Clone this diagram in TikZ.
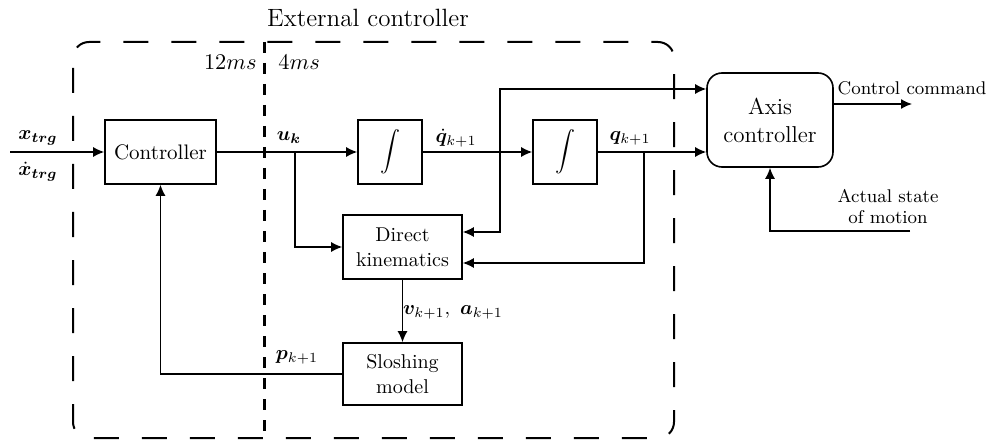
\RequirePackage{fix-cm}
\documentclass[tikz,border=0pt]{standalone}
\usepackage{amsmath}
\usepackage{bm}
\usepackage{fontspec}
\usetikzlibrary{arrows.meta}
\begin{document}
\begin{tikzpicture}[x=0.5pt,y=-0.5pt,
  blk/.style={draw, line width=0.8pt, inner sep=0pt, align=center, font=\fontsize{10}{12.5}\selectfont},
  conn/.style={line width=0.7pt},
  arr/.style={conn, -{Latex[length=5.5pt,width=5pt]}},
  lbl/.style={inner sep=0pt, font=\fontsize{10}{12}\selectfont},
  small/.style={inner sep=0pt, align=center, font=\fontsize{9.2}{10.5}\selectfont},
  big/.style={inner sep=0pt, font=\fontsize{12.5}{15}\selectfont},
  mid/.style={inner sep=0pt, font=\fontsize{11.2}{13}\selectfont}]
\useasboundingbox (0,0) rectangle (989,443);

% dashed frames
\draw[line width=1pt, dash pattern=on 12.5pt off 11.5pt, dash phase=-5pt, rounded corners=8pt] (73,42) rectangle (674,438);
\coordinate (vt) at (264,42);
\coordinate (vb) at (264,438);
\draw[line width=1.5pt, dash pattern=on 5.5pt off 5pt] (vt) -- (vb);

% titles
\node[big] (title) at (368,18) {External controller};
\node[mid, anchor=east] (t12) at (257,62) {$12ms$};
\node[mid, anchor=west] (t4) at (278,62) {$4ms$};

% blocks
\node[blk, minimum width=55.5pt, minimum height=32pt, font=\fontsize{10.5}{12}\selectfont] (ctrl) at (160.5,152) {Controller};
\node[blk, minimum width=32pt, minimum height=32pt] (int1) at (390,152) {$\displaystyle\int$};
\node[blk, minimum width=32pt, minimum height=32pt] (int2) at (565,152) {$\displaystyle\int$};
\node[blk, minimum width=59.5pt, minimum height=32pt] (dk) at (402.5,247) {Direct\\kinematics};
\node[blk, minimum width=59.5pt, minimum height=31pt] (slosh) at (402.5,374) {Sloshing\\model};
\node[blk, rounded corners=7.5pt, minimum width=63pt, minimum height=47pt, font=\fontsize{11.5}{14}\selectfont] (axis) at (770,120) {Axis\\controller};

% coordinates
\coordinate (in) at (10,152);
\coordinate (ju) at (295,152);
\coordinate (jq) at (500,152);
\coordinate (jt) at (500,89);
\coordinate (jqd) at (500,232);
\coordinate (jk) at (644,152);
\coordinate (jkd) at (644,263);
\coordinate (cc) at (912,104);
\coordinate (as) at (910,231);

% connectors
\draw[arr] (in) -- (ctrl);
\draw[arr] (ctrl) -- (int1);
\draw[arr] (int1) -- (int2);
\draw[arr] (int2) -- (axis.west |- int2);
\draw[arr] (ju) |- (dk.west);
\draw[arr] (jq) -- (jt) -- (axis.west |- jt);
\draw[arr] (jq) -- (jqd) -- (dk.east |- jqd);
\draw[arr] (jk) -- (jkd) -- (dk.east |- jkd);
\draw[arr] (dk) -- (slosh);
\draw[arr] (slosh.west) -| (ctrl.south);
\draw[arr] (axis.east |- cc) -- (cc);
\draw[arr] (as) -| (axis.south);

% labels
\node[lbl] (lx) at (38,138) {$\bm{x_{trg}}$};
\node[lbl] (lxd) at (38,172) {$\bm{\dot{x}_{trg}}$};
\node[lbl] (lu) at (289,138) {$\bm{u_k}$};
\node[lbl] (lqd) at (456,138) {$\dot{\bm{q}}_{k+1}$};
\node[lbl] (lq) at (630,138) {$\bm{q}_{k+1}$};
\node[lbl] (lva) at (453,312) {$\bm{v}_{k+1},\ \bm{a}_{k+1}$};
\node[lbl] (lp) at (297,357) {$\bm{p}_{k+1}$};
\node[small] (lcc) at (912,88) {Control command};
\node[small] (las) at (888,207) {Actual state\\of motion};
\end{tikzpicture}
\end{document}
